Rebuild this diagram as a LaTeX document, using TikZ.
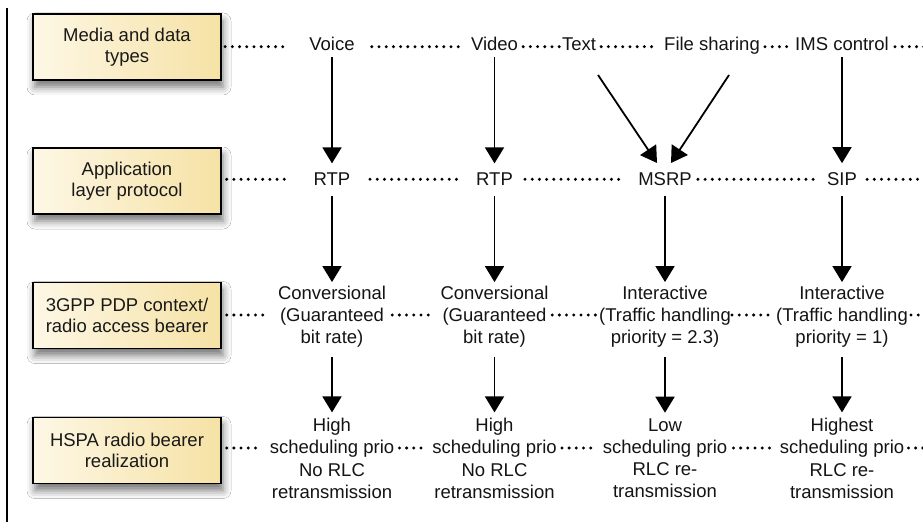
\documentclass[tikz,border=0pt]{standalone}
\usepackage{fontspec}
\setmainfont{Liberation Sans}
\usetikzlibrary{arrows.meta,shadows.blur}
\definecolor{boxL}{RGB}{253,247,229}
\definecolor{boxR}{RGB}{246,226,165}
\begin{document}
\begin{tikzpicture}[x=1pt,y=-1pt,
  lbl/.style={draw=black, line width=1.3pt, left color=boxL, right color=boxR,
    minimum width=188pt, minimum height=66pt, inner sep=0pt, align=center,
    font=\fontsize{18.5}{21}\selectfont, text=black!90,
    blur shadow={shadow xshift=2pt, shadow yshift=-7pt, shadow blur radius=8pt, shadow opacity=55}},
  one/.style={inner sep=0pt, anchor=base, font=\fontsize{18.5}{22}\selectfont, text=black!92},
  multi/.style={inner sep=0pt, align=center, font=\fontsize{18.5}{22.2}\selectfont, text=black!92},
  arr/.style={line width=1.8pt, -{Triangle[length=16pt,width=19pt]}},
  aone/.style={shorten <=6pt, shorten >=9.7pt},
  atwo/.style={shorten <=10pt, shorten >=3.7pt},
  athree/.style={shorten <=9pt, shorten >=5.7pt},
  dotl/.style={line width=3.3pt, line cap=round, dash pattern=on 0pt off 7.2pt}
]
\useasboundingbox (0,0) rectangle (923,529);
\fill[white] (0,0) rectangle (923,529);

% left rule
\draw[line width=1.3pt] (7,8) -- (7,522);

% row reference coordinates
\coordinate (r1) at (0,46.7);
\coordinate (r2) at (0,179.3);
\coordinate (r3) at (0,315);
\coordinate (r4) at (0,448);
\coordinate (E) at (924,0);

% label boxes
\node[lbl] (b1) at (127,47) {Media and data\\types};
\node[lbl] (b2) at (127,181) {Application\\layer protocol};
\node[lbl] (b3) at (127,315.5) {3GPP PDP context/\\radio access bearer};
\node[lbl] (b4) at (127,450.5) {HSPA radio bearer\\realization};

% row 1
\node[one] (voice) at (332,51) {Voice};
\node[one] (video) at (494.5,51) {Video};
\node[one] (textn) at (579,51) {Text};
\node[one] (file) at (712,51) {File sharing};
\node[one] (ims) at (842,51) {IMS control};

% row 2
\node[one] (rtpa) at (332,186) {RTP};
\node[one] (rtpb) at (494.5,186) {RTP};
\node[one] (msrp) at (665,186) {MSRP};
\node[one] (sip) at (842,186) {SIP};

% row 3
\node[multi] (ca) at (332,316.8) {Conversional\\(Guaranteed\\bit rate)};
\node[multi] (cb) at (494.5,316.8) {Conversional\\(Guaranteed\\bit rate)};
\node[multi] (cc) at (665,316.8) {Interactive\\(Traffic handling\\priority = 2.3)};
\node[multi] (cd) at (842,316.8) {Interactive\\(Traffic handling\\priority = 1)};

% row 4
\node[multi] (da) at (332,458.4) {High\\scheduling prio\\No RLC\\retransmission};
\node[multi] (db) at (494.5,458.4) {High\\scheduling prio\\No RLC\\retransmission};
\node[multi] (dc) at (665,458.4) {Low\\scheduling prio\\RLC re-\\transmission};
\node[multi] (dd) at (842,458.4) {Highest\\scheduling prio\\RLC re-\\transmission};

% dotted guide lines, row 1
\draw[dotl, shorten <=3.5pt, shorten >=22pt] (b1.east |- r1) -- (voice.west |- r1);
\draw[dotl, shorten <=17pt, shorten >=9pt] (voice.east |- r1) -- (video.west |- r1);
\draw[dotl, shorten <=5pt, shorten >=1pt] (video.east |- r1) -- (textn.west |- r1);
\draw[dotl, shorten <=5pt, shorten >=7pt] (textn.east |- r1) -- (file.west |- r1);
\draw[dotl, shorten <=5pt, shorten >=7pt] (file.east |- r1) -- (ims.west |- r1);
\draw[dotl, shorten <=6pt] (ims.east |- r1) -- (E |- r1);

% row 2
\draw[dotl, shorten <=5pt, shorten >=23.5pt] (b2.east |- r2) -- (rtpa.west |- r2);
\draw[dotl, shorten <=19.5pt, shorten >=14pt] (rtpa.east |- r2) -- (rtpb.west |- r2);
\draw[dotl, shorten <=12pt, shorten >=15pt] (rtpb.east |- r2) -- (msrp.west |- r2);
\draw[dotl, shorten <=6pt, shorten >=7pt] (msrp.east |- r2) -- (sip.west |- r2);
\draw[dotl, shorten <=10pt] (sip.east |- r2) -- (E |- r2);

% row 3
\draw[dotl, shorten <=5pt, shorten >=10pt] (b3.east |- r3) -- (ca.west |- r3);
\draw[dotl, shorten <=6pt, shorten >=9.5pt] (ca.east |- r3) -- (cb.west |- r3);
\draw[dotl, shorten <=3.5pt, shorten >=2pt] (cb.east |- r3) -- (cc.west |- r3);
\draw[dotl, shorten <=1pt, shorten >=5.5pt] (cc.east |- r3) -- (cd.west |- r3);
\draw[dotl, shorten <=3pt] (cd.east |- r3) -- (E |- r3);

% row 4
\draw[dotl, shorten <=5pt, shorten >=8pt] (b4.east |- r4) -- (da.west |- r4);
\draw[dotl, shorten <=5pt, shorten >=10pt] (da.east |- r4) -- (db.west |- r4);
\draw[dotl, shorten <=5pt, shorten >=6pt] (db.east |- r4) -- (dc.west |- r4);
\draw[dotl, shorten <=6pt, shorten >=10pt] (dc.east |- r4) -- (dd.west |- r4);
\draw[dotl, shorten <=4pt] (dd.east |- r4) -- (E |- r4);

% arrows row 1 -> row 2
\draw[arr,aone] (voice.south) -- (rtpa.north);
\draw[arr,aone] (video.south) -- (rtpb.north);
\draw[arr,aone] (ims.south) -- (sip.north);
\coordinate (tA) at (598,75);
\coordinate (tB) at (657,163);
\coordinate (fA) at (729,75);
\coordinate (fB) at (671,163);
\draw[arr] (tA) -- (tB);
\draw[arr] (fA) -- (fB);

% arrows row 2 -> row 3
\draw[arr,atwo] (rtpa.south) -- (ca.north);
\draw[arr,atwo] (rtpb.south) -- (cb.north);
\draw[arr,atwo] (msrp.south) -- (cc.north);
\draw[arr,atwo] (sip.south) -- (cd.north);

% arrows row 3 -> row 4
\draw[arr,athree] (ca.south) -- (da.north);
\draw[arr,athree] (cb.south) -- (db.north);
\draw[arr,athree] (cc.south) -- (dc.north);
\draw[arr,athree] (cd.south) -- (dd.north);
\end{tikzpicture}
\end{document}
